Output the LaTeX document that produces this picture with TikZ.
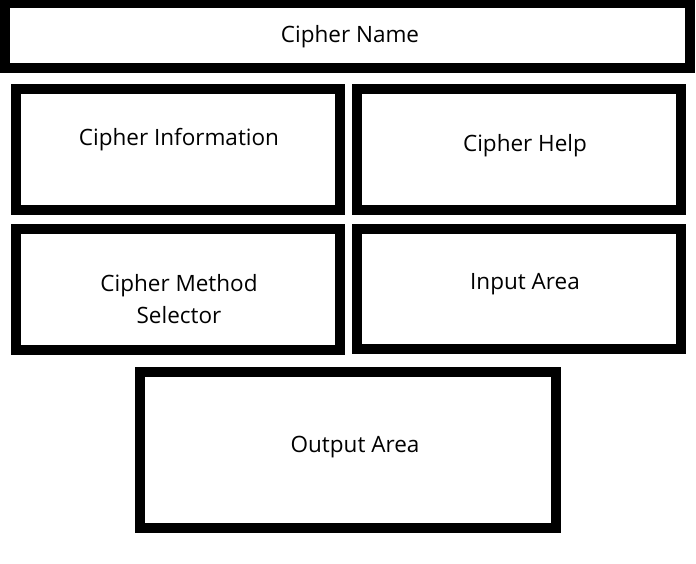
\documentclass[tikz,border=0pt]{standalone}
\usepackage{fontspec}
\setmainfont{Open Sans}
\begin{document}
\begin{tikzpicture}[x=1pt,y=-1pt,
  box/.style={draw=black,line width=10pt,fill=white,inner sep=0pt,outer sep=0pt},
  lbl/.style={font=\fontsize{22.5}{32}\selectfont,align=center,inner sep=0pt}]
\useasboundingbox[fill=white] (0,0) rectangle (696,564);
\node[box,minimum width=685pt,minimum height=65pt] (top) at (347.5,35.5) {};
\node[box,minimum width=324pt,minimum height=121pt] (info) at (178,149.5) {};
\node[box,minimum width=324pt,minimum height=121pt] (help) at (519,149.5) {};
\node[box,minimum width=324pt,minimum height=121pt] (method) at (178,289.5) {};
\node[box,minimum width=324pt,minimum height=120pt] (input) at (519,289) {};
\node[box,minimum width=416pt,minimum height=156pt] (output) at (348,450) {};
\node[lbl] (topt) at (350,37) {Cipher Name};
\node[lbl] (infot) at (179,140) {Cipher Information};
\node[lbl] (helpt) at (525,146) {Cipher Help};
\node[lbl] (methodt) at (179,299) {Cipher Method\\Selector};
\node[lbl] (inputt) at (525,284) {Input Area};
\node[lbl] (outputt) at (355,447) {Output Area};
\end{tikzpicture}
\end{document}
